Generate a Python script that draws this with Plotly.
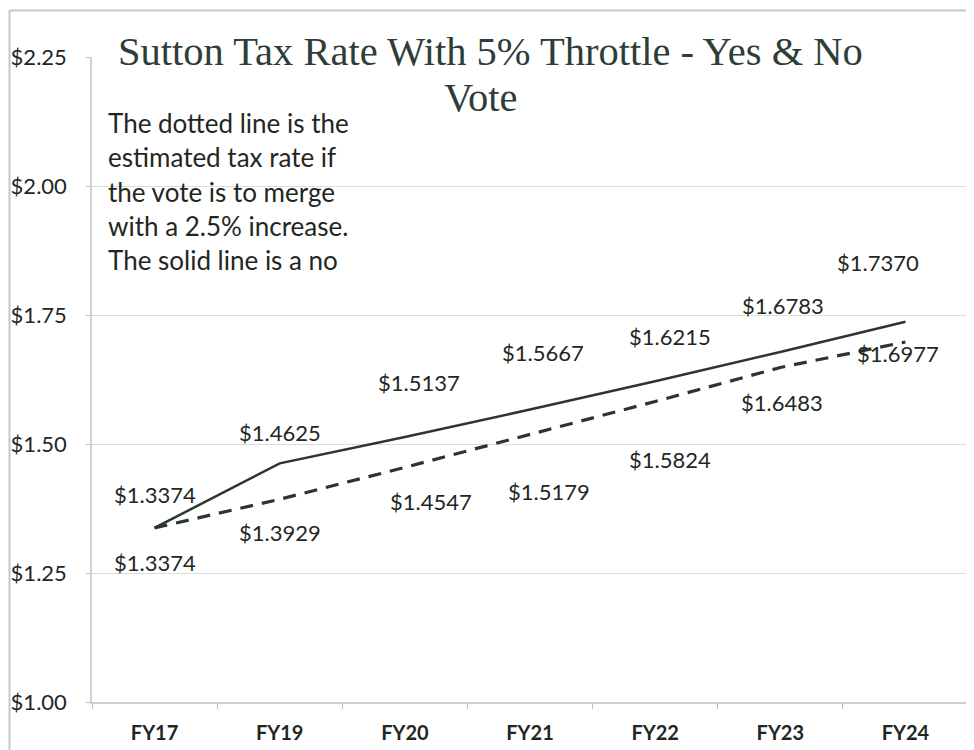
import plotly.graph_objects as go

# ---- data ----
categories = ["FY17", "FY19", "FY20", "FY21", "FY22", "FY23", "FY24"]
no_vote = [1.3374, 1.4625, 1.5137, 1.5667, 1.6215, 1.6783, 1.7370]
yes_vote = [1.3374, 1.3929, 1.4547, 1.5179, 1.5824, 1.6483, 1.6977]
y_ticks = [1.00, 1.25, 1.50, 1.75, 2.00, 2.25]
y_tick_labels = ["$1.00", "$1.25", "$1.50", "$1.75", "$2.00", "$2.25"]
title_lines = ["Sutton Tax Rate With 5% Throttle - Yes & No", "Vote"]
note_lines = ["The dotted line is the", "estimated tax rate if", "the vote is to merge",
              "with a 2.5% increase.", "The solid line is a no"]

# ---- label placement (pixels) ----
no_xshift = [0, 0, 14, 13, 15, 3, -27]
no_yshift = [33, 31, 54, 57, 45, 47, 59]
yes_xshift = [0, 0, 26, 19, 15, 2, -7]
yes_yshift = [-35, -33, -34, -57, -58, -35, -12]

LINE = "#2b3631"
TXT = "#1f2723"
LBL_FONT = dict(family="Lato", size=22, color=TXT)

fig = go.Figure()
fig.add_trace(go.Scatter(x=categories, y=no_vote, mode="lines",
                         line=dict(color=LINE, width=2.5), showlegend=False))
fig.add_trace(go.Scatter(x=categories, y=yes_vote, mode="lines",
                         line=dict(color=LINE, width=3.2, dash="13px,9px"), showlegend=False))

ann = []
for c, v, xs, ys in zip(categories, no_vote, no_xshift, no_yshift):
    ann.append(dict(x=c, y=v, xref="x", yref="y", text=f"${v:.4f}", showarrow=False,
                    xshift=xs, yshift=ys, font=LBL_FONT))
for c, v, xs, ys in zip(categories, yes_vote, yes_xshift, yes_yshift):
    ann.append(dict(x=c, y=v, xref="x", yref="y", text=f"${v:.4f}", showarrow=False,
                    xshift=xs, yshift=ys, font=LBL_FONT))

# page body has an 8px margin: figure is drawn at (8, 8)
OFF = 8
W, H = 974 - OFF, 750 - OFF
L, T = 92 - OFF, 57 - OFF
R, B = 6, 48
PW, PH = W - L - R, H - T - B
def px(x): return (x - OFF - L) / PW
def py(y): return (H - B - (y - OFF)) / PH

ann.append(dict(x=px(490), y=py(52), xref="paper", yref="paper", text=title_lines[0],
                showarrow=False, xanchor="center", yanchor="middle",
                font=dict(family="Liberation Serif", size=40.5, color="#2e3d38")))
ann.append(dict(x=px(481), y=py(98), xref="paper", yref="paper", text=title_lines[1],
                showarrow=False, xanchor="center", yanchor="middle",
                font=dict(family="Liberation Serif", size=40.5, color="#2e3d38")))
for i, line in enumerate(note_lines):
    ann.append(dict(x=px(106), y=py(123 + i * 34.3), xref="paper", yref="paper", text=line,
                    showarrow=False, xanchor="left", yanchor="middle",
                    font=dict(family="Lato", size=26, color=TXT)))

FRAME = dict(color="#b9cbcf", width=2)
fig.update_layout(
    width=W, height=H,
    margin=dict(l=L, r=R, t=T, b=B, autoexpand=False),
    paper_bgcolor="white", plot_bgcolor="white",
    annotations=ann,
    shapes=[
        dict(type="line", xref="paper", yref="paper", x0=px(9.5), x1=px(9.5),
             y0=py(760), y1=py(10), line=FRAME, layer="below"),
        dict(type="line", xref="paper", yref="paper", x0=px(970), x1=px(970),
             y0=py(760), y1=py(10), line=FRAME, layer="below"),
        dict(type="line", xref="paper", yref="paper", x0=px(9.5), x1=px(970),
             y0=py(10.5), y1=py(10.5), line=FRAME, layer="below"),
    ],
)
fig.update_xaxes(type="category", range=[-0.5, 6.5], showgrid=False, showline=True,
                 linecolor="#cfcfcf", linewidth=1.5,
                 ticks="outside", tickson="boundaries", ticklen=5, tickcolor="#bdbdbd",
                 tickfont=dict(family="Lato", size=20, color=TXT, weight="bold"),
                 ticklabelstandoff=12)
fig.update_yaxes(range=[1.0, 2.25], tickvals=y_ticks, ticktext=y_tick_labels,
                 showgrid=True, gridcolor="#dcdcdc", gridwidth=1.2,
                 showline=True, linecolor="#cfcfcf", linewidth=1.5,
                 ticks="outside", ticklen=4, tickcolor="#bdbdbd",
                 tickfont=dict(family="Lato", size=22, color=TXT),
                 ticklabelstandoff=15, zeroline=False)

fig.write_html("out.html")
